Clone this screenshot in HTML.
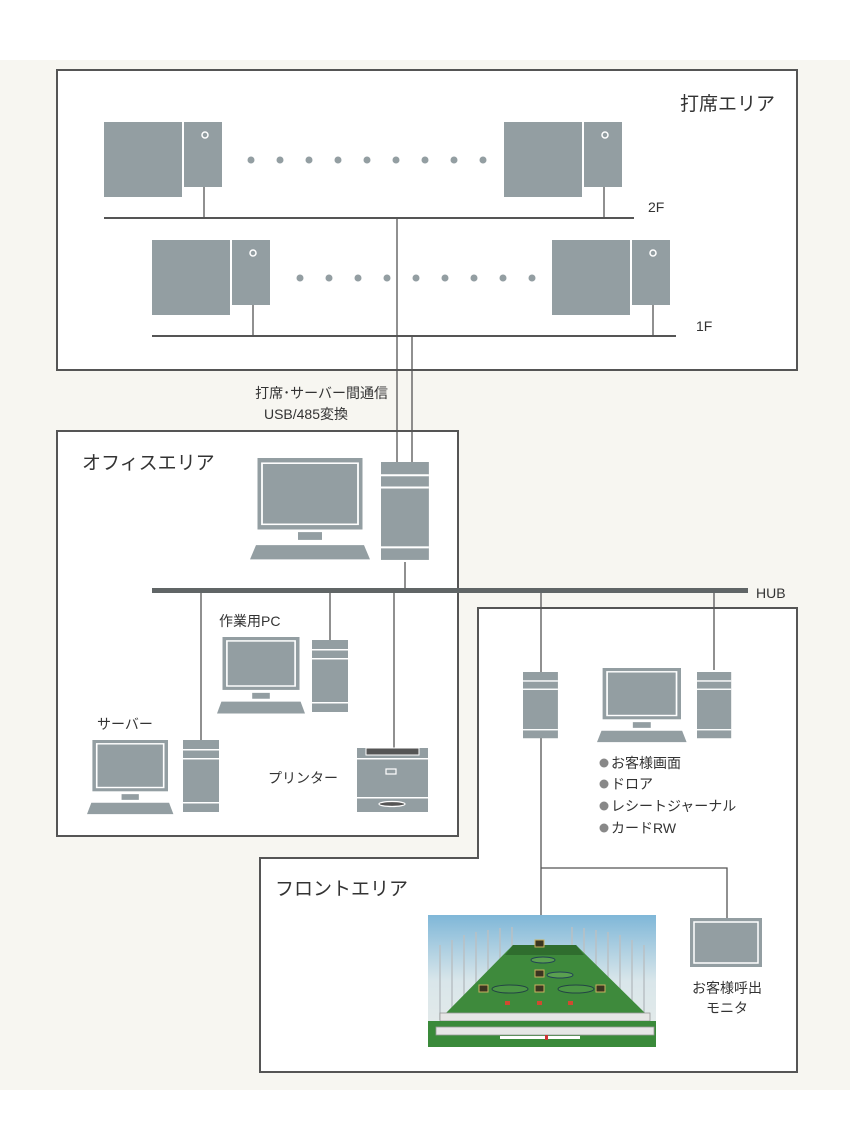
<!DOCTYPE html>
<html><head><meta charset="utf-8"><style>
html,body{margin:0;padding:0;background:#fff;}
svg{display:block;}
text{font-family:"Liberation Sans","Noto Sans CJK JP",sans-serif;fill:#333;}
</style></head><body>
<svg width="850" height="1136" viewBox="0 0 850 1136" xmlns="http://www.w3.org/2000/svg">
<defs>
<linearGradient id="sky" x1="0" y1="0" x2="0" y2="1"><stop offset="0" stop-color="#7fb7d8"/><stop offset="0.5" stop-color="#d9e6ea"/><stop offset="1" stop-color="#e8ecea"/></linearGradient>
<g id="tw"><rect x="0" y="0" width="36" height="72" fill="#939ea2"/><rect x="0" y="9" width="36" height="1.5" fill="#fff"/><rect x="0" y="18" width="36" height="1.5" fill="#fff"/><rect x="0" y="62" width="36" height="1.5" fill="#fff"/></g>
<g id="pc"><rect x="5" y="0" width="70" height="54" fill="#939ea2"/><rect x="9" y="4" width="62" height="46" fill="none" stroke="#fff" stroke-width="1.5"/><rect x="32" y="57" width="16" height="6" fill="#939ea2"/><polygon points="4,66 76,66 80,78 0,78" fill="#939ea2"/></g>
</defs>
<rect x="0" y="60" width="850" height="1030" fill="#f7f6f1"/>
<rect x="57" y="70" width="740" height="300" fill="#fff" stroke="#555" stroke-width="2"/>
<text x="680" y="110" font-size="19">打席エリア</text>
<g fill="#939ea2">
<rect x="104" y="122" width="78" height="75"/><rect x="184" y="122" width="38" height="65"/>
<rect x="504" y="122" width="78" height="75"/><rect x="584" y="122" width="38" height="65"/>
<rect x="152" y="240" width="78" height="75"/><rect x="232" y="240" width="38" height="65"/>
<rect x="552" y="240" width="78" height="75"/><rect x="632" y="240" width="38" height="65"/>
</g>
<g fill="none" stroke="#fff" stroke-width="1.5"><circle cx="205" cy="135" r="3"/><circle cx="605" cy="135" r="3"/><circle cx="253" cy="253" r="3"/><circle cx="653" cy="253" r="3"/></g>
<g fill="#939ea2">
<circle cx="251" cy="160" r="3.5"/><circle cx="280" cy="160" r="3.5"/><circle cx="309" cy="160" r="3.5"/><circle cx="338" cy="160" r="3.5"/><circle cx="367" cy="160" r="3.5"/><circle cx="396" cy="160" r="3.5"/><circle cx="425" cy="160" r="3.5"/><circle cx="454" cy="160" r="3.5"/><circle cx="483" cy="160" r="3.5"/>
<circle cx="300" cy="278" r="3.5"/><circle cx="329" cy="278" r="3.5"/><circle cx="358" cy="278" r="3.5"/><circle cx="387" cy="278" r="3.5"/><circle cx="416" cy="278" r="3.5"/><circle cx="445" cy="278" r="3.5"/><circle cx="474" cy="278" r="3.5"/><circle cx="503" cy="278" r="3.5"/><circle cx="532" cy="278" r="3.5"/>
</g>
<g stroke="#555" stroke-width="1.3" fill="none">
<line x1="104" y1="218" x2="634" y2="218" stroke-width="2"/>
<line x1="152" y1="336" x2="676" y2="336" stroke-width="2"/>
<line x1="204" y1="187" x2="204" y2="218"/><line x1="604" y1="187" x2="604" y2="218"/>
<line x1="253" y1="305" x2="253" y2="336"/><line x1="653" y1="305" x2="653" y2="336"/>
<line x1="397" y1="218" x2="397" y2="462"/><line x1="412" y1="336" x2="412" y2="462"/>
</g>
<text x="648" y="212" font-size="14">2F</text>
<text x="696" y="331" font-size="14">1F</text>
<text x="388" y="398" font-size="14" text-anchor="end">打席･サーバー間通信</text>
<text x="306" y="419" font-size="14" text-anchor="middle">USB/485変換</text>
<rect x="57" y="431" width="401" height="405" fill="#fff" stroke="#555" stroke-width="2"/>
<line x1="397" y1="431" x2="397" y2="462" stroke="#555" stroke-width="1.3"/><line x1="412" y1="431" x2="412" y2="462" stroke="#555" stroke-width="1.3"/>
<text x="82" y="469" font-size="19">オフィスエリア</text>
<polygon points="478,608 797,608 797,1072 260,1072 260,858 478,858" fill="#fff" stroke="#555" stroke-width="2"/>
<text x="275" y="895" font-size="19">フロントエリア</text>
<g transform="translate(250,458) scale(1.5,1.3)"><rect x="5" y="0" width="70" height="55" fill="#939ea2"/><rect x="8" y="4" width="64" height="47" fill="none" stroke="#fff" stroke-width="1.2"/><rect x="32" y="57" width="16" height="6" fill="#939ea2"/><polygon points="4,67 76,67 80,78 0,78" fill="#939ea2"/></g>
<g transform="translate(381,462) scale(1.33,1.36)"><use href="#tw"/></g>
<g stroke="#555" stroke-width="1.3">
<line x1="405" y1="562" x2="405" y2="590"/>
<line x1="201" y1="590" x2="201" y2="740"/>
<line x1="330" y1="590" x2="330" y2="640"/>
<line x1="394" y1="590" x2="394" y2="748"/>
<line x1="541" y1="590" x2="541" y2="672"/>
<line x1="714" y1="590" x2="714" y2="670"/>
<line x1="541" y1="738" x2="541" y2="917"/>
<polyline points="541,868 727,868 727,918" fill="none"/>
</g>
<rect x="152" y="588" width="596" height="5" fill="#606566"/>
<text x="756" y="598" font-size="14">HUB</text>
<text x="219" y="626" font-size="14">作業用PC</text>
<g transform="translate(217,637) scale(1.1,0.98)"><use href="#pc"/></g>
<g transform="translate(312,640)"><use href="#tw"/></g>
<text x="97" y="729" font-size="14">サーバー</text>
<g transform="translate(87,740) scale(1.08,0.95)"><use href="#pc"/></g>
<g transform="translate(183,740)"><use href="#tw"/></g>
<text x="268" y="783" font-size="14">プリンター</text>
<rect x="357" y="748" width="71" height="64" fill="#939ea2"/>
<rect x="366" y="748" width="53" height="7" fill="#555" stroke="#fff" stroke-width="1"/>
<rect x="357" y="758" width="71" height="1.5" fill="#fff"/>
<rect x="357" y="797" width="71" height="1.5" fill="#fff"/>
<rect x="386" y="769" width="10" height="5" fill="none" stroke="#fff" stroke-width="1.2"/>
<ellipse cx="392" cy="804" rx="13" ry="2.5" fill="#555" stroke="#fff" stroke-width="1.2"/>
<g transform="translate(523,672) scale(0.97,0.92)"><use href="#tw"/></g>
<g transform="translate(597,668) scale(1.12,0.95)"><use href="#pc"/></g>
<g transform="translate(697,672) scale(0.95,0.92)"><use href="#tw"/></g>
<g font-size="14">
<circle cx="604" cy="763" r="4.5" fill="#888"/><text x="611" y="768">お客様画面</text>
<circle cx="604" cy="784" r="4.5" fill="#888"/><text x="611" y="789">ドロア</text>
<circle cx="604" cy="806" r="4.5" fill="#888"/><text x="611" y="811">レシートジャーナル</text>
<circle cx="604" cy="828" r="4.5" fill="#888"/><text x="611" y="833">カードRW</text>
</g>
<rect x="428" y="915" width="228" height="132" fill="url(#sky)"/>
<g stroke="#b9c0c4" stroke-width="1.5">
<line x1="440" y1="945" x2="440" y2="1020"/><line x1="452" y1="940" x2="452" y2="1020"/><line x1="464" y1="935" x2="464" y2="1020"/><line x1="476" y1="932" x2="476" y2="1020"/><line x1="488" y1="930" x2="488" y2="1020"/><line x1="500" y1="928" x2="500" y2="1020"/><line x1="512" y1="927" x2="512" y2="1020"/>
<line x1="572" y1="927" x2="572" y2="1020"/><line x1="584" y1="928" x2="584" y2="1020"/><line x1="596" y1="930" x2="596" y2="1020"/><line x1="608" y1="932" x2="608" y2="1020"/><line x1="620" y1="935" x2="620" y2="1020"/><line x1="632" y1="940" x2="632" y2="1020"/><line x1="644" y1="945" x2="644" y2="1020"/>
</g>
<polygon points="513,945 576,945 645,1013 446,1013" fill="#3e8a3c"/>
<polygon points="513,945 576,945 584,955 505,955" fill="#2f6d2e"/>
<ellipse cx="543" cy="960" rx="12" ry="3" fill="#5aa050" stroke="#245"/>
<ellipse cx="560" cy="975" rx="13" ry="3" fill="#5aa050" stroke="#245"/>
<ellipse cx="510" cy="989" rx="18" ry="4" fill="#4b9545" stroke="#244"/>
<ellipse cx="576" cy="989" rx="18" ry="4" fill="#4b9545" stroke="#244"/>
<g fill="#3a3520" stroke="#c9b160" stroke-width="1">
<rect x="535" y="940" width="9" height="7"/><rect x="535" y="970" width="9" height="7"/><rect x="535" y="985" width="9" height="7"/><rect x="479" y="985" width="9" height="7"/><rect x="596" y="985" width="9" height="7"/>
</g>
<g fill="#d04a30"><rect x="505" y="1001" width="5" height="4"/><rect x="537" y="1001" width="5" height="4"/><rect x="568" y="1001" width="5" height="4"/></g>
<rect x="440" y="1013" width="210" height="8" fill="#e6e6e6" stroke="#999" stroke-width="0.8"/>
<rect x="428" y="1021" width="228" height="26" fill="#3a8a3a"/>
<rect x="436" y="1027" width="218" height="8" fill="#e6e6e6" stroke="#999" stroke-width="0.8"/>
<rect x="500" y="1036" width="80" height="3" fill="#fff"/><rect x="545" y="1035" width="3" height="5" fill="#c33"/>
<rect x="690" y="918" width="72" height="49" fill="#939ea2"/>
<rect x="694" y="922" width="64" height="41" fill="none" stroke="#fff" stroke-width="1.5"/>
<text x="727" y="993" font-size="14" text-anchor="middle">お客様呼出</text>
<text x="727" y="1013" font-size="14" text-anchor="middle">モニタ</text>
</svg>
</body></html>
